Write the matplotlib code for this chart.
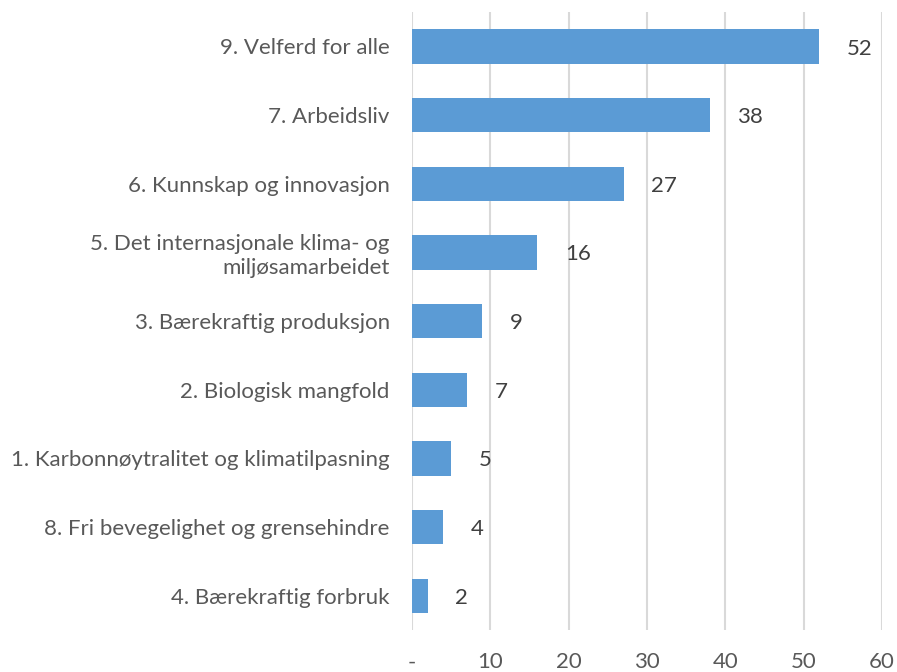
import matplotlib
matplotlib.use("Agg")
from matplotlib import pyplot as plt

categories = [
    "9. Velferd for alle",
    "7. Arbeidsliv",
    "6. Kunnskap og innovasjon",
    "5. Det internasjonale klima- og\nmiljøsamarbeidet",
    "3. Bærekraftig produksjon",
    "2. Biologisk mangfold",
    "1. Karbonnøytralitet og klimatilpasning",
    "8. Fri bevegelighet og grensehindre",
    "4. Bærekraftig forbruk",
]
values = [52, 38, 27, 16, 9, 7, 5, 4, 2]
xticks = [0, 10, 20, 30, 40, 50, 60]
xticklabels = ["-", "10", "20", "30", "40", "50", "60"]

plt.rcParams['font.family'] = ['Lato', 'DejaVu Sans']

fig = plt.figure(figsize=(8.97, 6.72), dpi=100)
ax = fig.add_axes([0.4593, 0.0625, 0.524, 0.9195])

ypos = list(range(len(categories)))
ax.barh(ypos, values, height=0.5, color="#5b9bd5", zorder=3)
for y, v in zip(ypos, values):
    ax.annotate(str(v), (v, y), xytext=(20, -1.5), textcoords="offset points",
                va="center", ha="left", fontsize=16, color="#404040")

ax.set_ylim(len(categories) - 0.5, -0.5)
ax.set_xlim(0, 60)
ax.set_yticks(ypos)
ax.set_yticklabels(categories, fontsize=16, color="#595959", linespacing=1.25)
ax.set_xticks(xticks)
ax.set_xticklabels(xticklabels, fontsize=16, color="#595959")
ax.tick_params(axis="both", length=0)
ax.tick_params(axis="x", pad=16)
ax.tick_params(axis="y", pad=16)
ax.grid(axis="x", color="#d9d9d9", linewidth=1.5, zorder=0)
for s in ax.spines.values():
    s.set_visible(False)

fig.savefig("out.png", dpi=100)
